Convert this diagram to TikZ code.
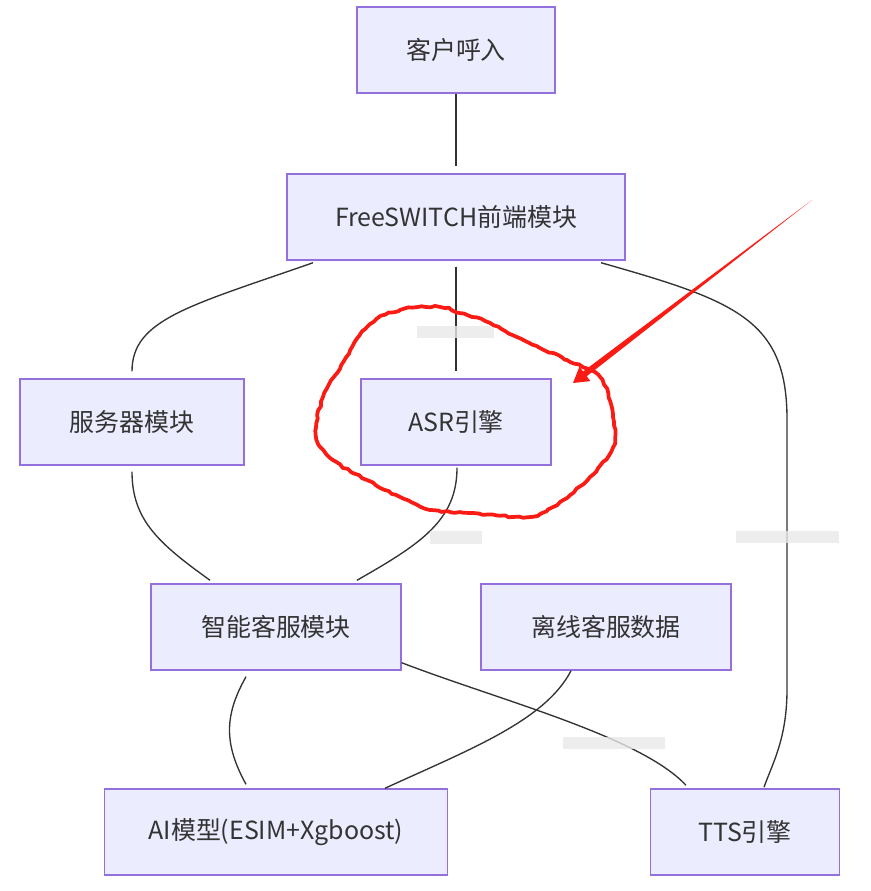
\documentclass[tikz,border=0pt]{standalone}
\usepackage{fontspec}
\setmainfont{Noto Sans CJK SC}
\usepackage{tikz}
\usetikzlibrary{calc,decorations.pathmorphing}

\definecolor{boxfill}{HTML}{ECECFF}
\definecolor{boxline}{HTML}{9370DB}
\definecolor{ink}{HTML}{333333}
\definecolor{lblfill}{HTML}{E8E8E8}
\definecolor{marker}{RGB}{250,28,20}

\begin{document}
\begin{tikzpicture}[x=0.02cm, y=-0.02cm,
	box/.style={draw=boxline, fill=boxfill, line width=0.03cm, inner sep=0pt,
		minimum height=1.72cm, text=ink, font=\fontsize{14.2}{17}\selectfont},
	link/.style={draw=ink, line width=0.027cm},
	lbl/.style={fill=lblfill, fill opacity=0.8, draw=none}]

	\useasboundingbox (0,0) rectangle (870,891);
	\pgfmathsetseed{7}

	\node[box, minimum width=3.96cm] (call) at (456,50) {客户呼入};
	\node[box, minimum width=6.76cm] (fs) at (456,217) {FreeSWITCH前端模块};
	\node[box, minimum width=4.48cm] (srv) at (132,422) {服务器模块};
	\node[box, minimum width=3.8cm] (asr) at (456,422) {ASR引擎};
	\node[box, minimum width=5cm] (smart) at (276,627) {智能客服模块};
	\node[box, minimum width=5cm] (offline) at (606,627) {离线客服数据};
	\node[box, minimum width=6.86cm] (ai) at (276,832) {AI模型(ESIM+Xgboost)};
	\node[box, minimum width=3.78cm] (tts) at (745,832) {TTS引擎};

	% connectors
	\draw[link] (call.south) -- ($(fs.north)+(0,-7)$);
	\draw[link] ($(fs.south)+(-143,2)$) .. controls +(-123,43) and +(0,-52) .. ($(srv.north)+(0,-7)$);
	\draw[link] ($(fs.south)+(0,6)$) -- ($(asr.north)+(0,-7)$);
	\draw[link] ($(fs.south)+(145,2)$) .. controls +(134,38) and +(0,-100) .. ($(tts.north)+(42,-369)$)
		-- ($(tts.north)+(42,-99)$) .. controls +(0,50) and +(8,-23) .. ($(tts.north)+(19,-1)$);
	\draw[link] ($(srv.south)+(0,6)$) .. controls +(0,49) and +(-50,-36) .. ($(smart.north)+(-66,-3)$);
	\draw[link] ($(asr.south)+(1,2)$) .. controls +(0,53) and +(63,-36) .. ($(smart.north)+(81,-3)$);
	\draw[link] ($(smart.south)+(-30,6)$) .. controls +(-22,39) and +(-22,-40) .. ($(ai.north)+(-30,-4)$);
	\draw[link] ($(offline.south)+(-35,0)$) .. controls +(-26,50) and +(85,-39) .. ($(ai.north)+(109,0)$);
	\draw[link] ($(smart.south east)+(0,-8)$) .. controls +(99,38) and +(-46,-49) .. ($(tts.north)+(-59,-3)$);

	% clipped edge labels
	\fill[lbl] (417,326) rectangle (494,338);
	\fill[lbl] (430,531) rectangle (482,544);
	\fill[lbl] (736,531) rectangle (839,543);
	\fill[lbl] (563,737) rectangle (665,749);

	% red marks
	\draw[marker, line width=0.075cm, line join=round,
		decorate, decoration={random steps, segment length=2.5pt, amplitude=0.5pt}]
		plot[smooth cycle, tension=0.6] coordinates {
		(316,436) (323,397) (337,373) (367,327) (400,310) (440,307) (460,313)
		(490,323) (517,337) (567,360) (600,377) (613,417) (613,447) (590,477)
		(553,507) (527,517) (473,513) (433,510) (400,497) (367,480) (333,460)};
	\fill[marker] (812,200) -- (586.7,376.3) -- (590.4,381.1) -- (573,383)
		-- (579.4,366.7) -- (583.1,371.5) -- cycle;

\end{tikzpicture}
\end{document}
